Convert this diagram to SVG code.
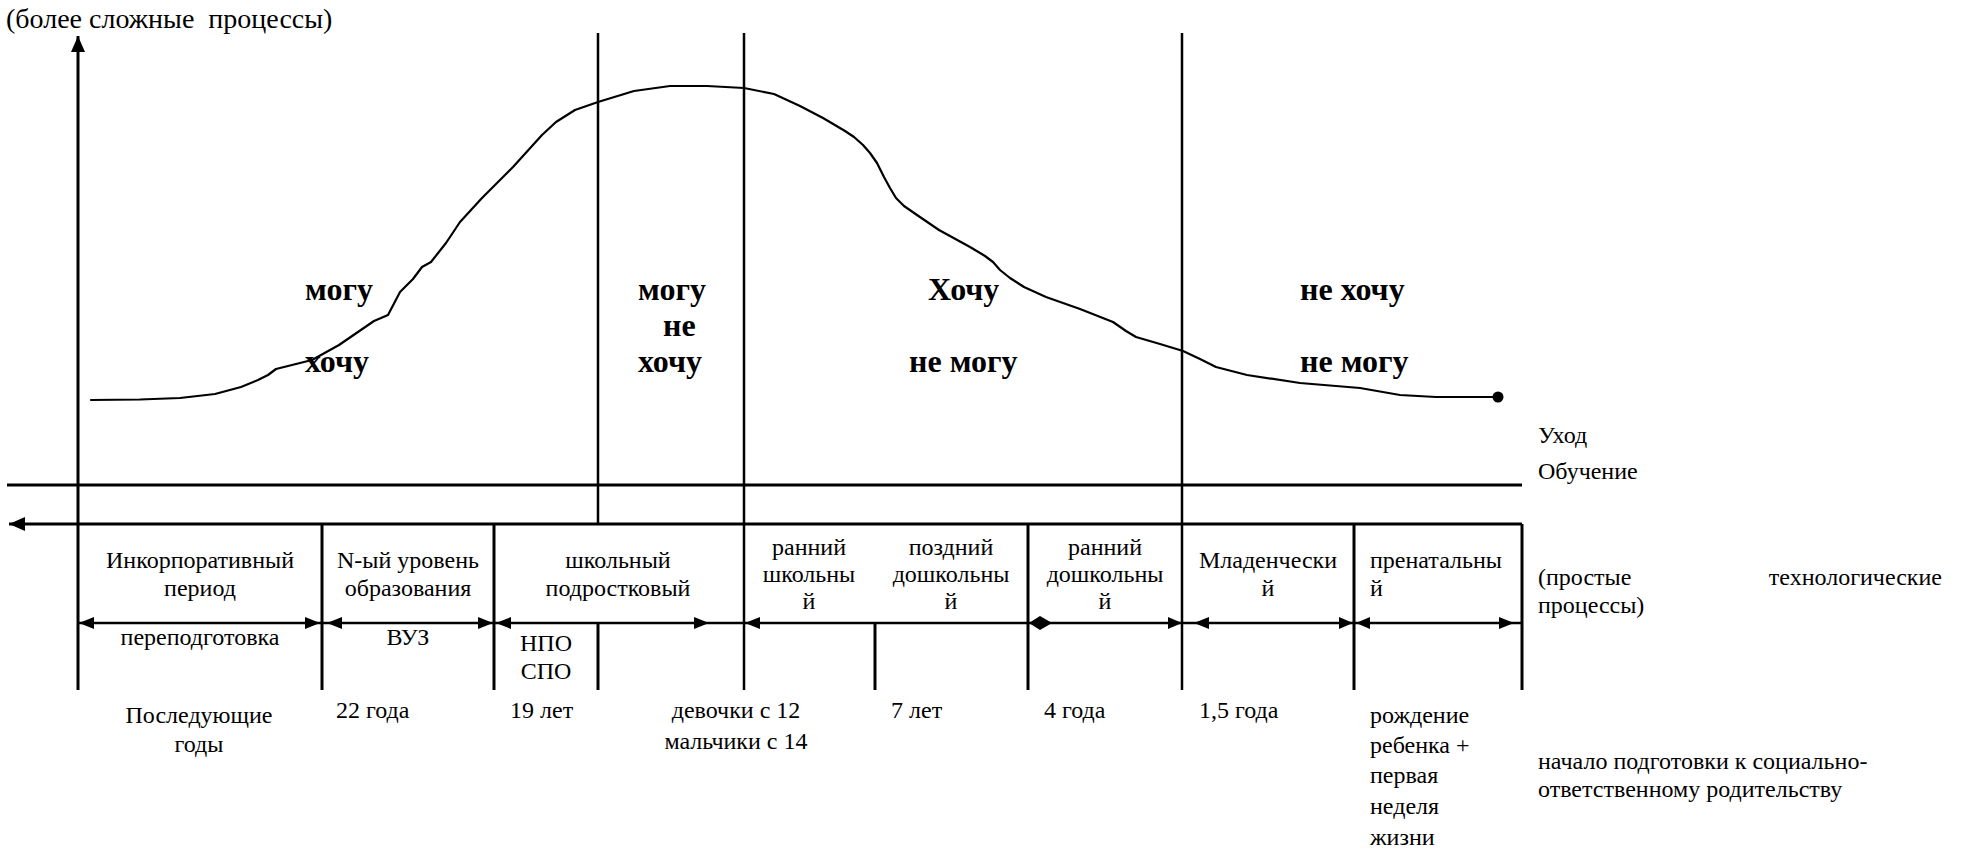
<svg xmlns="http://www.w3.org/2000/svg" width="1966" height="851" viewBox="0 0 1966 851">
<style>
.t{font-family:"Liberation Serif","Times New Roman",serif;font-size:24px;fill:#000}
.m{text-anchor:middle}
.e{text-anchor:end}
.b{font-family:"Liberation Serif","Times New Roman",serif;font-size:32px;font-weight:bold;fill:#000}
.ttl{font-size:28px}
.ln{stroke:#000;stroke-width:3;fill:none}
.ln2{stroke:#000;stroke-width:2.5;fill:none}
.cv{stroke:#000;stroke-width:2.2;fill:none;stroke-linejoin:round;stroke-linecap:round}
.ah{fill:#000}
</style>
<defs>
<marker id="ar" viewBox="0 0 16 14" refX="16" refY="7" markerWidth="16" markerHeight="14" markerUnits="userSpaceOnUse" orient="auto-start-reverse">
<path d="M0,0 L16,7 L0,14 Z" fill="#000"/>
</marker>
</defs>
<rect width="1966" height="851" fill="#fff"/>

<g id="title">
<text class="t ttl" x="6" y="28" xml:space="preserve">(более сложные  процессы)</text>
</g>

<g id="connectors">
<line class="ln" x1="78" y1="690" x2="78" y2="36" marker-end="url(#ar)"/>
<line class="ln2" x1="598" y1="33" x2="598" y2="524"/>
<line class="ln" x1="598" y1="623" x2="598" y2="690"/>
<line class="ln2" x1="744" y1="33" x2="744" y2="690"/>
<line class="ln2" x1="1182" y1="33" x2="1182" y2="690"/>
<line class="ln" x1="7" y1="485" x2="1522" y2="485"/>
<line class="ln" x1="1522" y1="524" x2="9" y2="524" marker-end="url(#ar)"/>
<line class="ln" x1="322" y1="524" x2="322" y2="690"/>
<line class="ln" x1="494" y1="524" x2="494" y2="690"/>
<line class="ln" x1="875" y1="623" x2="875" y2="690"/>
<line class="ln" x1="1028" y1="524" x2="1028" y2="690"/>
<line class="ln" x1="1354" y1="524" x2="1354" y2="690"/>
<line class="ln" x1="1522" y1="524" x2="1522" y2="690"/>
<line class="ln2" x1="78" y1="623" x2="1522" y2="623"/>
<g id="arrowheads">
<path class="ah" d="M79,623 L94,617 L94,629 Z"/>
<path class="ah" d="M320,623 L305,617 L305,629 Z"/>
<path class="ah" d="M327,623 L342,617 L342,629 Z"/>
<path class="ah" d="M493,623 L478,617 L478,629 Z"/>
<path class="ah" d="M496,623 L511,617 L511,629 Z"/>
<path class="ah" d="M709,623 L694,617 L694,629 Z"/>
<path class="ah" d="M745,623 L760,617 L760,629 Z"/>
<path class="ah" d="M1029,623 L1040,616 L1052,623 L1040,630 Z"/>
<path class="ah" d="M1182,623 L1168,617 L1168,629 Z"/>
<path class="ah" d="M1194,623 L1209,617 L1209,629 Z"/>
<path class="ah" d="M1353,623 L1339,617 L1339,629 Z"/>
<path class="ah" d="M1356,623 L1370,617 L1370,629 Z"/>
<path class="ah" d="M1514,623 L1499,617 L1499,629 Z"/>
</g>
</g>

<g id="curve">
<polyline class="cv" points="91,400 140,399.5 180,398 215,394 241,387 258,380 268,375 276,369 312,360 339,345 374,321 388,315 400,292 413,279 422,267 431,262 446,243 460,222 482,198 513,167 542,135 556,122 575,110 598,102 634,91 670,86 707,86 744,88 774,94 800,106 823,118 845,131 854,137 863,145 870,153 877,163 884,177 890,188 896,198 904,206 917,215 939,230 970,247 985,256 993,262 1000,270 1010,278 1024,287 1046,297 1080,309 1113,322 1126,331 1136,337 1160,344 1183,351 1200,359 1216,367 1247,375 1300,383 1360,388 1400,395 1436,397 1498,397"/>
<circle cx="1498" cy="397" r="5.5" fill="#000"/>
</g>

<g id="zone1">
<text class="b" x="305" y="300">могу</text>
<text class="b" x="305" y="372">хочу</text>
</g>
<g id="zone2">
<text class="b" x="638" y="300">могу</text>
<text class="b" x="663" y="336">не</text>
<text class="b" x="638" y="372">хочу</text>
</g>
<g id="zone3">
<text class="b" x="928" y="300">Хочу</text>
<text class="b" x="909" y="372">не могу</text>
</g>
<g id="zone4">
<text class="b" x="1300" y="300">не хочу</text>
<text class="b" x="1300" y="372">не могу</text>
</g>

<g id="side-labels">
<text class="t" x="1538" y="443">Уход</text>
<text class="t" x="1538" y="479">Обучение</text>
<text class="t" x="1538" y="585">(простые</text>
<text class="t e" x="1942" y="585">технологические</text>
<text class="t" x="1538" y="613">процессы)</text>
<text class="t" x="1538" y="769">начало подготовки к социально-</text>
<text class="t" x="1538" y="797">ответственному родительству</text>
</g>

<g id="cell-incorporative">
<text class="t m" x="200" y="568">Инкорпоративный</text>
<text class="t m" x="200" y="596">период</text>
<text class="t m" x="200" y="645">переподготовка</text>
<text class="t m" x="199" y="723">Последующие</text>
<text class="t m" x="199" y="752">годы</text>
</g>
<g id="cell-n-level">
<text class="t m" x="408" y="568">N-ый уровень</text>
<text class="t m" x="408" y="596">образования</text>
<text class="t m" x="408" y="645">ВУЗ</text>
<text class="t" x="336" y="718">22 года</text>
</g>
<g id="cell-school">
<text class="t m" x="618" y="568">школьный</text>
<text class="t m" x="618" y="596">подростковый</text>
<text class="t m" x="546" y="651">НПО</text>
<text class="t m" x="546" y="679">СПО</text>
<text class="t" x="510" y="718">19 лет</text>
<text class="t m" x="736" y="718">девочки с 12</text>
<text class="t m" x="736" y="749">мальчики с 14</text>
</g>
<g id="cell-early-school">
<text class="t m" x="809" y="555">ранний</text>
<text class="t m" x="809" y="582">школьны</text>
<text class="t m" x="809" y="609">й</text>
</g>
<g id="cell-late-preschool">
<text class="t m" x="951" y="555">поздний</text>
<text class="t m" x="951" y="582">дошкольны</text>
<text class="t m" x="951" y="609">й</text>
<text class="t" x="891" y="718">7 лет</text>
</g>
<g id="cell-early-preschool">
<text class="t m" x="1105" y="555">ранний</text>
<text class="t m" x="1105" y="582">дошкольны</text>
<text class="t m" x="1105" y="609">й</text>
<text class="t" x="1044" y="718">4 года</text>
</g>
<g id="cell-infant">
<text class="t m" x="1268" y="568">Младенчески</text>
<text class="t m" x="1268" y="596">й</text>
<text class="t" x="1199" y="718">1,5 года</text>
</g>
<g id="cell-prenatal">
<text class="t" x="1370" y="568">пренатальны</text>
<text class="t" x="1370" y="596">й</text>
<text class="t" x="1370" y="723">рождение</text>
<text class="t" x="1370" y="753">ребенка +</text>
<text class="t" x="1370" y="783">первая</text>
<text class="t" x="1370" y="814">неделя</text>
<text class="t" x="1370" y="845">жизни</text>
</g>
</svg>
